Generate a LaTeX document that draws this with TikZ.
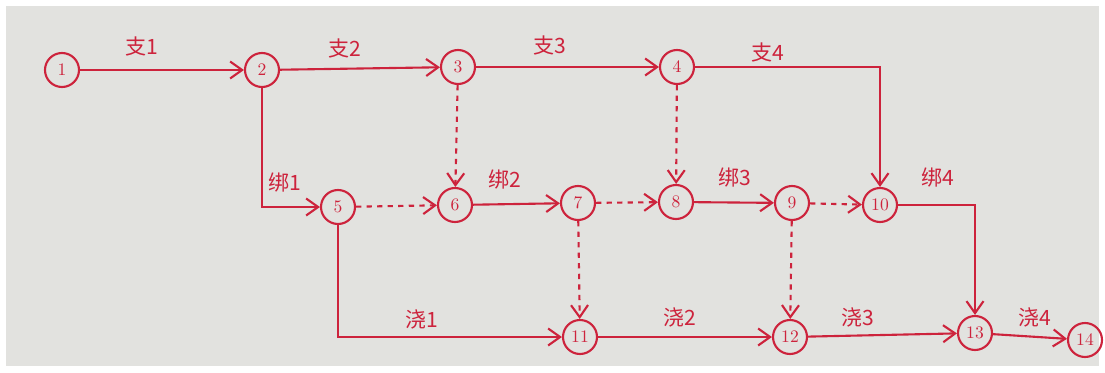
\documentclass[tikz,border=0pt]{standalone}
\usepackage{fontspec}
\newfontfamily\cjk{Noto Sans CJK SC}
\usetikzlibrary{arrows.meta}
\definecolor{pen}{RGB}{205,35,60}
\definecolor{paper}{RGB}{226,226,223}
\tikzset{
  event/.style={circle,draw=pen,line width=1.2pt,minimum size=0.68cm,inner sep=0pt,text=pen,font=\normalsize},
  work/.style={draw=pen,line width=1.2pt,-{Straight Barb[length=2.4mm,width=3.4mm]}},
  dummy/.style={work,dashed},
  lbl/.style={text=pen,font=\cjk\large}
}
\begin{document}
\begin{tikzpicture}[x=0.02cm,y=-0.02cm]
\useasboundingbox (0,0) rectangle (1105,372);
\fill[white] (0,0) rectangle (1105,372);
\fill[paper] (6,6) rectangle (1099,366);

\node[event] (n1) at (62,70) {1};
\node[event] (n2) at (262,70) {2};
\node[event] (n3) at (458,67) {3};
\node[event] (n4) at (677,67) {4};
\node[event] (n5) at (338,207) {5};
\node[event] (n6) at (455,205) {6};
\node[event] (n7) at (578,203) {7};
\node[event] (n8) at (676,202) {8};
\node[event] (n9) at (792,203) {9};
\node[event] (n10) at (880,205) {10};
\node[event] (n11) at (580,337) {11};
\node[event] (n12) at (790,337) {12};
\node[event] (n13) at (975,333) {13};
\node[event] (n14) at (1085,340) {14};

% formwork
\draw[work] (n1) -- (n2);
\draw[work] (n2) -- (n3);
\draw[work] (n3) -- (n4);
\draw[work] (n4) -| (n10);
\node[lbl] (z1) at (142,46) {支1};
\node[lbl] (z2) at (345,48) {支2};
\node[lbl] (z3) at (550,45) {支3};
\node[lbl] (z4) at (768,52) {支4};

% rebar
\draw[work] (n2) |- (n5);
\draw[work] (n6) -- (n7);
\draw[work] (n8) -- (n9);
\draw[work] (n10) -| (n13);
\node[lbl] (b1) at (285,183) {绑1};
\node[lbl] (b2) at (505,180) {绑2};
\node[lbl] (b3) at (735,178) {绑3};
\node[lbl] (b4) at (938,178) {绑4};

% concrete
\draw[work] (n5) |- (n11);
\draw[work] (n11) -- (n12);
\draw[work] (n12) -- (n13);
\draw[work] (n13) -- (n14);
\node[lbl] (j1) at (422,320) {浇1};
\node[lbl] (j2) at (680,318) {浇2};
\node[lbl] (j3) at (858,318) {浇3};
\node[lbl] (j4) at (1035,318) {浇4};

% dummies
\draw[dummy] (n5) -- (n6);
\draw[dummy] (n7) -- (n8);
\draw[dummy] (n9) -- (n10);
\draw[dummy] (n3) -- (n6);
\draw[dummy] (n4) -- (n8);
\draw[dummy] (n7) -- (n11);
\draw[dummy] (n9) -- (n12);
\end{tikzpicture}
\end{document}
